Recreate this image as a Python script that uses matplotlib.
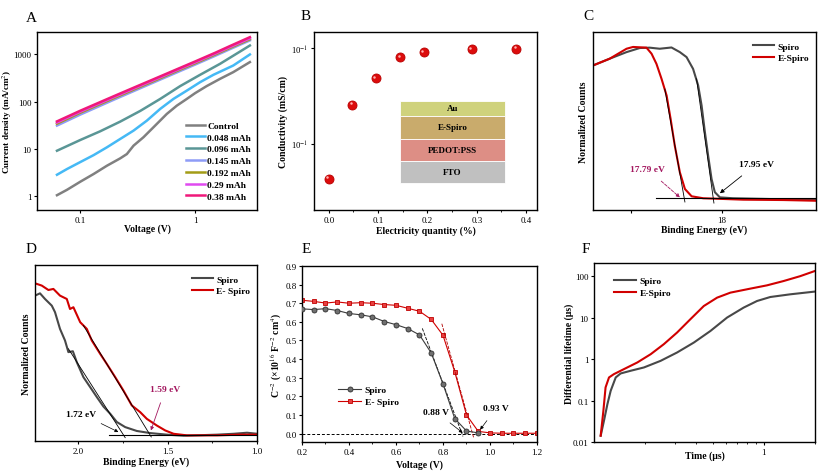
import matplotlib
matplotlib.use("Agg")
import matplotlib.pyplot as plt
import matplotlib.ticker as mticker
from matplotlib.patches import Rectangle
from matplotlib.transforms import ScaledTranslation

plt.rcParams['font.family'] = ['Liberation Serif', 'DejaVu Serif']
plt.rcParams['mathtext.fontset'] = 'stix'
plt.rcParams['axes.linewidth'] = 1.0
plt.rcParams['xtick.major.size'] = 2.5
plt.rcParams['ytick.major.size'] = 2.5
plt.rcParams['xtick.minor.size'] = 1.5
plt.rcParams['ytick.minor.size'] = 1.5
plt.rcParams['xtick.major.pad'] = 1.5
plt.rcParams['ytick.major.pad'] = 1.5
plt.rcParams['xtick.labelsize'] = 6.5
plt.rcParams['ytick.labelsize'] = 6.5

# ---------------- Panel A data ----------------
a_labels = ["Control", "0.048 mAh", "0.096 mAh", "0.145 mAh", "0.192 mAh", "0.29 mAh", "0.38 mAh"]
a_colors = ["#808080", "#45b9f5", "#5a9696", "#8e9cf7", "#a39c16", "#e04af0", "#f0187a"]
ctrl_v = [0.0627, 0.0766, 0.1, 0.1306, 0.1706, 0.2228, 0.2546, 0.291, 0.355, 0.434, 0.567, 0.693, 0.847, 1.0, 1.26, 1.65, 2.15, 3.0]
ctrl_j = [1.03, 1.34, 1.99, 2.9, 4.35, 6.24, 7.7, 11.6, 17.5, 28.5, 54.7, 82, 114, 151, 213, 304, 422, 689]
b048_v = [0.0627, 0.0766, 0.1, 0.1306, 0.1706, 0.2228, 0.291, 0.38, 0.497, 0.648, 0.847, 1.105, 1.443, 2.15, 3.0]
b048_j = [2.8, 3.7, 5.2, 7.3, 10.7, 16.1, 24.2, 39.4, 70, 114, 171, 258, 370, 583, 1000]
t096_v = [0.0627, 0.1, 0.149, 0.2228, 0.333, 0.497, 0.741, 1.105, 1.65, 3.0]
t096_j = [9.06, 15.3, 23.4, 37.6, 63.4, 114, 213, 370, 634, 1550]
top_v = [0.0627, 0.1, 0.2, 0.3, 0.5, 0.7, 1.0, 1.5, 2.0, 3.0]
l145_j = [31, 53, 112, 172, 295, 420, 610, 940, 1290, 1990]
o192_j = [34, 58, 121, 185, 315, 450, 650, 1000, 1370, 2100]
m029_j = [36, 61, 127, 194, 330, 470, 680, 1045, 1430, 2200]
r038_j = [38, 64, 133, 203, 345, 490, 710, 1090, 1500, 2330]

# ---------------- Panel B data ----------------
b_x = [0.0, 0.048, 0.096, 0.145, 0.192, 0.29, 0.38]
b_y = [0.0043, 0.0255, 0.0486, 0.0806, 0.0908, 0.0976, 0.0985]
layers = ["Au", "E-Spiro", "PEDOT:PSS", "FTO"]
layer_colors = ["#cfd27c", "#c9ab6c", "#dd8e85", "#c0c0c0"]
layer_bounds = [0.611, 0.530, 0.399, 0.277, 0.153]   # axes-fraction tops/bottoms

# ---------------- Panel C data ----------------
c_spiro_x = [17.290, 17.382, 17.475, 17.548, 17.603, 17.658, 17.723, 17.769, 17.806, 17.842, 17.870, 17.889,
             17.907, 17.925, 17.944, 17.962, 17.990, 18.062, 18.248, 18.519]
c_spiro_y = [0.812, 0.850, 0.887, 0.910, 0.912, 0.906, 0.913, 0.887, 0.859, 0.793, 0.700, 0.587,
             0.439, 0.306, 0.174, 0.100, 0.071, 0.066, 0.062, 0.056]
c_es_x = [17.290, 17.382, 17.475, 17.511, 17.585, 17.613, 17.640, 17.668, 17.696, 17.718, 17.741, 17.769,
          17.797, 17.834, 17.898, 18.119, 18.340, 18.519]
c_es_y = [0.812, 0.850, 0.906, 0.916, 0.912, 0.878, 0.821, 0.737, 0.643, 0.512, 0.362, 0.212,
          0.118, 0.077, 0.066, 0.058, 0.056, 0.052]
c_base = ([17.636, 18.519], [0.066, 0.066])
c_tan_es = ([17.686, 17.797], [0.680, 0.045])
c_tan_sp = ([17.861, 17.957], [0.737, 0.039])

# ---------------- Panel D data ----------------
d_spiro_x = [2.243, 2.215, 2.187, 2.149, 2.131, 2.103, 2.075, 2.056, 2.031, 2.009, 1.972, 1.934, 1.897, 1.860,
             1.822, 1.785, 1.738, 1.673, 1.598, 1.504, 1.411, 1.224, 1.131, 1.056, 0.997]
d_spiro_y = [0.826, 0.839, 0.807, 0.769, 0.732, 0.637, 0.571, 0.505, 0.510, 0.448, 0.363, 0.306, 0.250, 0.196,
             0.155, 0.108, 0.079, 0.057, 0.045, 0.036, 0.030, 0.036, 0.041, 0.047, 0.041]
d_es_x = [2.243, 2.205, 2.168, 2.140, 2.103, 2.065, 2.047, 2.028, 1.990, 1.953, 1.925, 1.878, 1.841, 1.794,
          1.748, 1.701, 1.654, 1.617, 1.561, 1.514, 1.467, 1.392, 1.224, 1.094, 0.997]
d_es_y = [0.896, 0.883, 0.858, 0.864, 0.826, 0.807, 0.750, 0.760, 0.675, 0.637, 0.571, 0.495, 0.438, 0.363,
          0.287, 0.202, 0.164, 0.126, 0.088, 0.060, 0.041, 0.032, 0.032, 0.036, 0.036]
d_base = ([1.826, 0.997], [0.032, 0.032])
d_tan_sp = ([2.056, 1.738], [0.524, 0.019])
d_tan_es = ([1.972, 1.592], [0.656, 0.023])

# ---------------- Panel E data ----------------
e_spiro_v = [0.20, 0.25, 0.30, 0.35, 0.40, 0.45, 0.50, 0.55, 0.60, 0.65, 0.70, 0.75, 0.80, 0.85, 0.90, 0.95]
e_spiro_c = [0.670, 0.666, 0.671, 0.661, 0.645, 0.638, 0.627, 0.602, 0.585, 0.564, 0.530, 0.433, 0.267, 0.081, 0.014, 0.004]
e_es_v = [0.20, 0.25, 0.30, 0.35, 0.40, 0.45, 0.50, 0.55, 0.60, 0.65, 0.70, 0.75, 0.80, 0.85, 0.90, 0.95,
          1.00, 1.05, 1.10, 1.15, 1.20]
e_es_c = [0.716, 0.710, 0.701, 0.707, 0.700, 0.703, 0.700, 0.693, 0.689, 0.673, 0.657, 0.613, 0.528, 0.332, 0.100, 0.012,
          0.004, 0.002, 0.002, 0.002, 0.002]
e_tan_sp = ([0.712, 0.885], [0.565, -0.015])
e_tan_es = ([0.795, 0.930], [0.590, -0.020])

# ---------------- Panel F data ----------------
f_spiro_t = [0.1095, 0.1145, 0.120, 0.1254, 0.1343, 0.1436, 0.1643, 0.197, 0.247, 0.309, 0.388, 0.486, 0.609,
             0.763, 0.915, 1.095, 1.435, 2.0]
f_spiro_tau = [0.0142, 0.0326, 0.0824, 0.172, 0.362, 0.452, 0.524, 0.631, 0.911, 1.45, 2.52, 4.8, 10.1,
               17.6, 25.4, 31.7, 36.8, 42.8]
f_es_t = [0.1095, 0.1136, 0.117, 0.1226, 0.131, 0.150, 0.180, 0.216, 0.258, 0.309, 0.370, 0.444, 0.532,
          0.637, 0.835, 1.047, 1.311, 1.644, 2.0]
f_es_tau = [0.0142, 0.0568, 0.208, 0.362, 0.435, 0.574, 0.832, 1.32, 2.3, 4.4, 9.2, 19.2, 30.6,
            40.4, 50.5, 60.6, 77, 101, 134]

GRAY = "#484848"
RED = "#d10000"
PURPLE = "#a3175f"
LBL = dict(fontsize=7, fontweight='bold')
LEG = dict(size=6.8, weight='bold')

fig = plt.figure(figsize=(8.28, 4.77), dpi=100)
W, H = 828.0, 477.0
def ax_at(l, t, r, b):
    return fig.add_axes([l / W, 1 - b / H, (r - l) / W, (b - t) / H])

axA = ax_at(37, 33, 257, 211)
axB = ax_at(314, 33, 537, 211)
axC = ax_at(593, 33, 816, 211)
axD = ax_at(35, 266, 257, 442)
axE = ax_at(302, 267, 537, 443)
axF = ax_at(594, 264, 815, 443)

for txt, x, y in [("A", 31, 18), ("B", 306, 17), ("C", 588, 17), ("D", 31, 250), ("E", 306, 250), ("F", 586, 250)]:
    fig.text(x / W, 1 - y / H, txt, fontsize=11, ha='center', va='center')

def place_labels(ax, xl, yl):
    ax.xaxis.set_label_coords(0.5, xl)
    ax.yaxis.set_label_coords(yl, 0.5)

# ---- A ----
a_series = [(ctrl_v, ctrl_j), (b048_v, b048_j), (t096_v, t096_j), (top_v, l145_j), (top_v, o192_j),
            (top_v, m029_j), (top_v, r038_j)]
for (v, j), c, lab in zip(a_series, a_colors, a_labels):
    axA.plot(v, j, color=c, lw=1.8, label=lab)
axA.set_xscale('log'); axA.set_yscale('log')
axA.set_xlim(0.042, 3.46); axA.set_ylim(0.5, 3000)
axA.xaxis.set_major_locator(mticker.FixedLocator([0.1, 1]))
axA.xaxis.set_major_formatter(mticker.FixedFormatter(["0.1", "1"]))
axA.xaxis.set_minor_locator(mticker.NullLocator())
axA.yaxis.set_major_locator(mticker.FixedLocator([1, 10, 100, 1000]))
axA.yaxis.set_major_formatter(mticker.FixedFormatter(["1", "10", "100", "1000"]))
axA.yaxis.set_minor_locator(mticker.NullLocator())
axA.set_xlabel("Voltage (V)", **LBL)
axA.set_ylabel("Current density (mA/cm$^{2}$)", fontsize=6.6, fontweight='bold')
place_labels(axA, -0.073, -0.105)
axA.legend(loc='lower right', bbox_to_anchor=(1.0, 0.02), frameon=False, prop=LEG, handlelength=2.0,
           labelspacing=0.34, handletextpad=0.3, borderaxespad=0.2)

# ---- B ----
axB.plot(b_x, b_y, 'o', ms=6.5, mfc="#dc0c0c", mec="#b80000", mew=0.6, ls='none')
hl = axB.transData + ScaledTranslation(-1.2 / 72, 1.2 / 72, fig.dpi_scale_trans)
axB.plot(b_x, b_y, 'o', ms=1.8, mfc="#ffb0b0", mec='none', ls='none', transform=hl)
axB.set_yscale('log')
axB.set_xlim(-0.03, 0.422); axB.set_ylim(0.00204, 0.148)
axB.xaxis.set_major_locator(mticker.FixedLocator([0.0, 0.1, 0.2, 0.3, 0.4]))
axB.xaxis.set_major_formatter(mticker.FixedFormatter(["0.0", "0.1", "0.2", "0.3", "0.4"]))
axB.xaxis.set_minor_locator(mticker.FixedLocator([0.05, 0.15, 0.25, 0.35]))
axB.yaxis.set_major_locator(mticker.FixedLocator([0.01, 0.1]))
axB.yaxis.set_major_formatter(mticker.FixedFormatter(["10$^{-1}$", "10$^{-1}$"]))
axB.yaxis.set_minor_locator(mticker.NullLocator())
axB.tick_params(axis='y', labelsize=6.2)
axB.set_xlabel("Electricity quantity (%)", **LBL)
axB.set_ylabel("Conductivity (mS/cm)", **LBL)
place_labels(axB, -0.084, -0.115)
for i, (name, col) in enumerate(zip(layers, layer_colors)):
    top, bot = layer_bounds[i], layer_bounds[i + 1]
    axB.add_patch(Rectangle((0.385, bot), 0.472, top - bot, transform=axB.transAxes,
                            facecolor=col, edgecolor='white', lw=0.6, zorder=3))
    axB.text(0.621, (top + bot) / 2, name, transform=axB.transAxes, ha='center', va='center',
             fontsize=6.5, fontweight='bold', zorder=4)

# ---- C ----
axC.plot(c_spiro_x, c_spiro_y, color=GRAY, lw=1.5, label="Spiro")
axC.plot(c_es_x, c_es_y, color=RED, lw=1.5, label="E-Spiro")
axC.plot(*c_base, color='black', lw=0.8)
axC.plot(*c_tan_es, color='black', lw=0.6)
axC.plot(*c_tan_sp, color='black', lw=0.6)
axC.set_xlim(17.29, 18.52); axC.set_ylim(0, 1)
axC.xaxis.set_major_locator(mticker.FixedLocator([17.5, 18.0]))
axC.xaxis.set_major_formatter(mticker.FixedFormatter(["", "18"]))
axC.set_yticks([])
axC.set_xlabel("Binding Energy (eV)", **LBL)
axC.set_ylabel("Normalized Counts", **LBL)
place_labels(axC, -0.079, -0.022)
axC.annotate("17.79 eV", xy=(17.769, 0.071), xytext=(17.589, 0.231), color=PURPLE, fontsize=6.8,
             fontweight='bold', ha='center', va='center',
             arrowprops=dict(arrowstyle='-|>', color=PURPLE, lw=0.6, ls='--', mutation_scale=5,
                             shrinkA=6, shrinkB=0))
axC.annotate("17.95 eV", xy=(17.990, 0.094), xytext=(18.193, 0.259), color='black', fontsize=6.8,
             fontweight='bold', ha='center', va='center',
             arrowprops=dict(arrowstyle='-|>', color='black', lw=0.6, mutation_scale=6,
                             shrinkA=6, shrinkB=0))
axC.legend(loc='upper right', bbox_to_anchor=(1.0, 0.98), frameon=False, prop=LEG, handlelength=2.2,
           labelspacing=0.3, handletextpad=0.4, borderaxespad=0.3)

# ---- D ----
axD.plot(d_spiro_x, d_spiro_y, color=GRAY, lw=1.5, label="Spiro")
axD.plot(d_es_x, d_es_y, color=RED, lw=1.5, label="E- Spiro")
axD.plot(*d_base, color='black', lw=0.8)
axD.plot(*d_tan_sp, color='black', lw=0.6)
axD.plot(*d_tan_es, color='black', lw=0.6)
axD.set_xlim(2.243, 1.0); axD.set_ylim(0, 1)
axD.xaxis.set_major_locator(mticker.FixedLocator([2.0, 1.5, 1.0]))
axD.xaxis.set_major_formatter(mticker.FixedFormatter(["2.0", "1.5", "1.0"]))
axD.xaxis.set_minor_locator(mticker.FixedLocator([2.25, 1.75, 1.25]))
axD.set_yticks([])
axD.set_xlabel("Binding Energy (eV)", **LBL)
axD.set_ylabel("Normalized Counts", **LBL)
place_labels(axD, -0.088, -0.018)
axD.annotate("1.72 eV", xy=(1.776, 0.051), xytext=(1.985, 0.155), color='black', fontsize=6.8,
             fontweight='bold', ha='center', va='center',
             arrowprops=dict(arrowstyle='-|>', color='black', lw=0.5, mutation_scale=5,
                             shrinkA=5, shrinkB=0))
axD.annotate("1.59 eV", xy=(1.594, 0.060), xytext=(1.514, 0.293), color=PURPLE, fontsize=6.8,
             fontweight='bold', ha='center', va='center',
             arrowprops=dict(arrowstyle='-|>', color=PURPLE, lw=0.6, mutation_scale=5,
                             shrinkA=5, shrinkB=0))
axD.legend(loc='upper right', bbox_to_anchor=(1.0, 0.98), frameon=False, prop=LEG, handlelength=2.2,
           labelspacing=0.3, handletextpad=0.4, borderaxespad=0.3)

# ---- E ----
axE.plot(e_spiro_v, e_spiro_c, color="#3c3c3c", lw=0.8, marker='o', ms=3.6, mfc="#707070", mec="#303030",
         mew=0.6, label="Spiro", zorder=3)
axE.plot(e_es_v, e_es_c, color="#d00000", lw=0.8, marker='s', ms=3.4, mfc="#e84040", mec="#c00000",
         mew=0.6, label="E- Spiro", zorder=2)
axE.axhline(0, color='black', lw=0.7, ls=(0, (3, 2)), zorder=1)
axE.plot(*e_tan_sp, color='black', lw=0.6, ls=(0, (4, 1.5)))
axE.plot(*e_tan_es, color="#b00000", lw=0.6, ls=(0, (4, 1.5)))
axE.set_xlim(0.2, 1.2); axE.set_ylim(-0.045, 0.9)
axE.xaxis.set_major_locator(mticker.MultipleLocator(0.2))
axE.xaxis.set_minor_locator(mticker.MultipleLocator(0.1))
axE.xaxis.set_major_formatter(mticker.FormatStrFormatter('%.1f'))
axE.yaxis.set_major_locator(mticker.MultipleLocator(0.1))
axE.yaxis.set_major_formatter(mticker.FormatStrFormatter('%.1f'))
axE.set_xlabel("Voltage (V)", **LBL)
axE.set_ylabel("C$^{-2}$ (×10$^{16}$ F$^{-2}$ cm$^{4}$)", **LBL)
place_labels(axE, -0.1, -0.078)
axE.annotate("0.88 V", xy=(0.884, 0.004), xytext=(0.770, 0.117), color='black', fontsize=6.8,
             fontweight='bold', ha='center', va='center',
             arrowprops=dict(arrowstyle='-|>', color='black', lw=0.5, mutation_scale=5,
                             shrinkA=5, shrinkB=0))
axE.annotate("0.93 V", xy=(0.958, 0.021), xytext=(1.026, 0.136), color='black', fontsize=6.8,
             fontweight='bold', ha='center', va='center',
             arrowprops=dict(arrowstyle='-|>', color='black', lw=0.5, mutation_scale=5,
                             shrinkA=5, shrinkB=0))
axE.legend(loc='lower left', bbox_to_anchor=(0.13, 0.17), frameon=False, prop=LEG, handlelength=2.4,
           labelspacing=0.35, handletextpad=0.4, borderaxespad=0.2)

# ---- F ----
axF.plot(f_spiro_t, f_spiro_tau, color=GRAY, lw=1.5, label="Spiro")
axF.plot(f_es_t, f_es_tau, color=RED, lw=1.5, label="E-Spiro")
axF.set_xscale('log'); axF.set_yscale('log')
axF.set_xlim(0.1, 2.01); axF.set_ylim(0.01, 210)
axF.xaxis.set_major_locator(mticker.FixedLocator([1]))
axF.xaxis.set_major_formatter(mticker.FixedFormatter(["1"]))
axF.xaxis.set_minor_locator(mticker.FixedLocator([0.2, 0.3, 0.4, 0.5, 0.6, 0.7, 0.8, 0.9, 2]))
axF.xaxis.set_minor_formatter(mticker.NullFormatter())
axF.yaxis.set_major_locator(mticker.FixedLocator([0.01, 0.1, 1, 10, 100]))
axF.yaxis.set_major_formatter(mticker.FixedFormatter(["0.01", "0.1", "1", "10", "100"]))
axF.yaxis.set_minor_locator(mticker.NullLocator())
axF.set_xlabel("Time (μs)", **LBL)
axF.set_ylabel("Differential lifetime (μs)", **LBL)
place_labels(axF, -0.048, -0.09)
axF.legend(loc='upper left', bbox_to_anchor=(0.06, 0.96), frameon=False, prop=LEG, handlelength=2.3,
           labelspacing=0.3, handletextpad=0.4, borderaxespad=0.3)

fig.savefig("out.png", dpi=100)
